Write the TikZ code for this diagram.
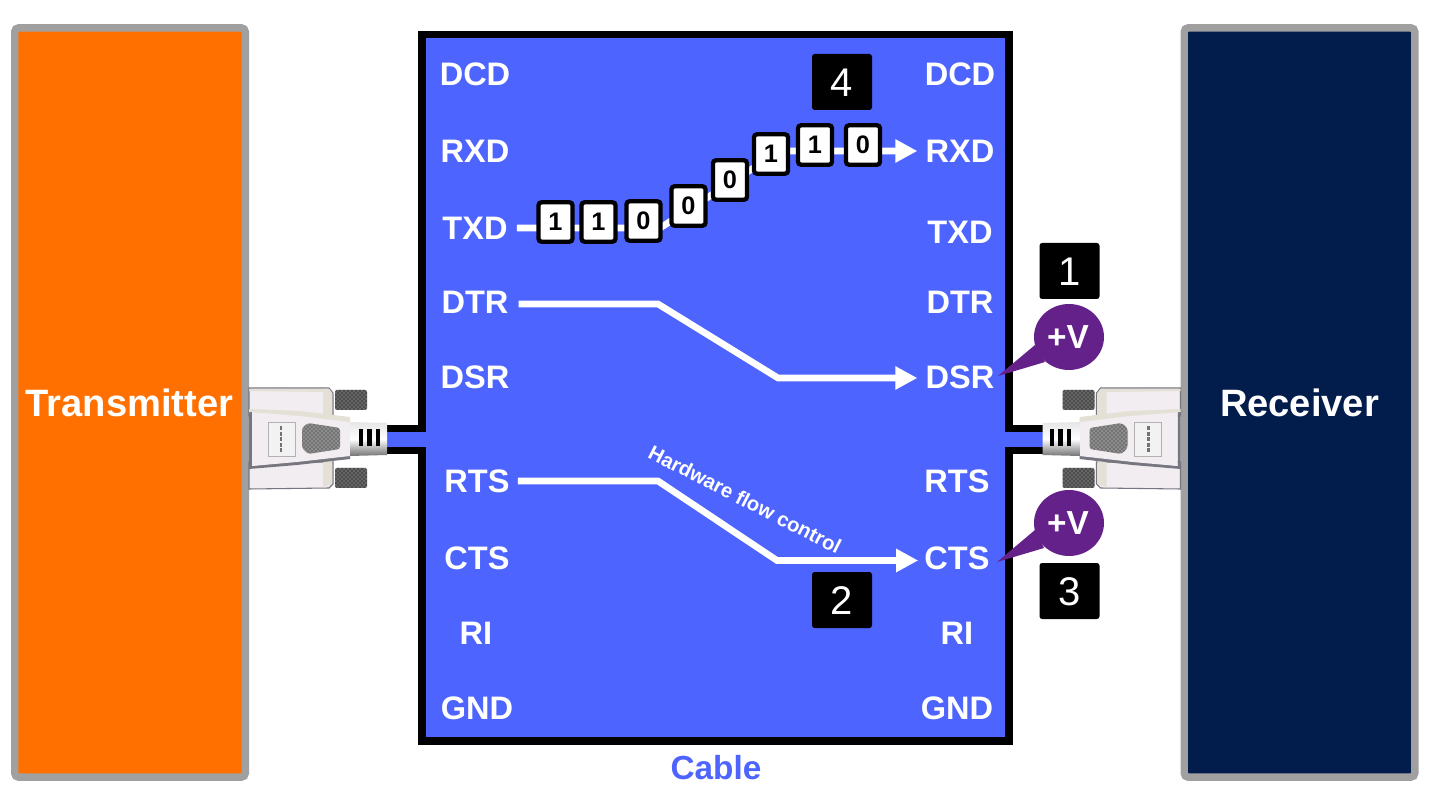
\documentclass[tikz,border=0pt]{standalone}
\usepackage{fontspec}
\setmainfont{Liberation Sans}
\usetikzlibrary{arrows.meta,calc,patterns}
\definecolor{cblue}{HTML}{4D64FF}
\definecolor{corange}{HTML}{FF7000}
\definecolor{cnavy}{HTML}{021C4C}
\definecolor{cpurple}{HTML}{64218A}
\definecolor{cgrey}{HTML}{A0A0A0}
\definecolor{hood}{HTML}{F1EDF1}
\definecolor{hoodedge}{HTML}{E4E0D6}
\definecolor{hoodshade}{HTML}{77757F}
\tikzset{
  sidebox/.style={draw=cgrey,line width=5.6pt,rounded corners=3pt,minimum width=172.9pt,minimum height=562pt,
    text=white,font=\bfseries\fontsize{28.6}{32}\selectfont,inner sep=0pt,text height=20.4pt,text depth=0pt},
  pin/.style={inner sep=0pt,text=white,font=\bfseries\fontsize{24.4}{28}\selectfont,text height=17.4pt,text depth=0pt},
  wire/.style={draw=white,line width=5pt,line join=miter,-{Triangle[length=16.5pt,width=16.5pt]}},
  bitbox/.style={draw=black,fill=white,line width=3.2pt,rounded corners=2.2pt,minimum width=25.5pt,minimum height=29.5pt,inner sep=0pt,
    font=\bfseries\fontsize{19}{22}\selectfont,text height=13.4pt,text depth=0pt},
  badge/.style={fill=black,text=white,rounded corners=2pt,minimum width=45pt,minimum height=42pt,inner sep=0pt,
    font=\fontsize{30}{34}\selectfont,text height=21.5pt,text depth=0pt},
  volt/.style={inner sep=0pt,text=white,font=\bfseries\fontsize{25}{28}\selectfont,text height=17.9pt,text depth=0pt},
  cablestroke/.style={draw=black,line width=5.8pt,line join=miter},
}
\newcommand{\dbconn}{%
  % thumbscrews
  \fill[black!70,rounded corners=1.5pt] (335,390) rectangle (367,410);
  \fill[black!70,rounded corners=1.5pt] (335,468) rectangle (367,488);
  \fill[pattern=crosshatch dots,pattern color=white!75!black] (335,390) rectangle (367,410);
  \fill[pattern=crosshatch dots,pattern color=white!75!black] (335,468) rectangle (367,488);
  % back shell
  \fill[hood,draw=hoodshade,line width=.8pt] (249,388) -- (329,388) -- (333,393) -- (333,416) -- (249,416) -- cycle;
  \fill[hood,draw=hoodshade,line width=.8pt] (249,462) -- (333,462) -- (333,484) -- (329,488) -- (249,489) -- cycle;
  \fill[hoodedge] (323,389) -- (329,389) -- (332,393) -- (332,415) -- (323,415) -- cycle;
  \fill[hoodedge] (323,461) -- (332,461) -- (332,484) -- (323,487) -- cycle;
  \fill[hoodedge] (249,389) -- (329,389) -- (327,392) -- (249,391) -- cycle;
  % hood
  \fill[hoodshade] (249,410) -- (252,410) -- (252,466) -- (297,460) -- (350,453) -- (350,459) -- (297,465) -- (249,469) -- cycle;
  \fill[hood] (252,410) -- (300,414) -- (350,418) -- (350,456) -- (297,462) -- (252,466) -- cycle;
  \fill[hoodedge] (249,409) -- (300,411) -- (350,417) -- (350,422) -- (300,416) -- (249,412) -- cycle;
  % label plate
  \fill[white!95!black,draw=black!30,line width=.5pt] (268,422) rectangle (295,456);
  \draw[black!55,line width=1.6pt,dash pattern=on 3pt off 1.2pt] (281,426) -- (281,452);
  % vent
  \fill[black!55,rounded corners=2pt] (302,428) -- (308,423) -- (340,428) -- (340,449) -- (308,454) -- (302,448) -- cycle;
  \fill[pattern=crosshatch dots,pattern color=white!90!black] (302,428) -- (308,423) -- (340,428) -- (340,449) -- (308,454) -- (302,448) -- cycle;
  % strain relief
  \shade[top color=white!90!black,bottom color=black!55,middle color=white] (350,422) -- (387,423) -- (387,455) -- (350,456) -- cycle;
  \fill[black] (359,429) rectangle (363,446);
  \fill[black] (367,429) rectangle (372,446);
  \fill[black] (376,429) rectangle (380,446);
}
\begin{document}
\begin{tikzpicture}[x=0.75pt,y=-0.75pt]
\useasboundingbox (0,0) rectangle (1432,805);
\fill[white] (0,0) rectangle (1432,805);

% cable body
\fill[cblue] (422,34.5) -- (1009,34.5) -- (1009,428.5) -- (1045,428.5) -- (1045,450.5) -- (1009,450.5) -- (1009,741) -- (422,741)
  -- (422,450.5) -- (385,450.5) -- (385,428.5) -- (422,428.5) -- cycle;
\draw[cablestroke] (385,428.5) -- (422,428.5) -- (422,34.5) -- (1009,34.5) -- (1009,428.5) -- (1045,428.5);
\draw[cablestroke] (385,450.5) -- (422,450.5) -- (422,741) -- (1009,741) -- (1009,450.5) -- (1045,450.5);

% end devices
\node[sidebox,fill=corange] (tx) at (130,402.5) {\hspace{-1pt}Transmitter};
\node[sidebox,fill=cnavy] (rx) at (1299.5,402.5) {Receiver};

% connectors
\dbconn
\begin{scope}[shift={(1429.5,0)},xscale=-1]
\dbconn
\end{scope}

% pin labels
\node[pin] (lDCD) at (475,74) {DCD};
\node[pin] (lRXD) at (475,151) {RXD};
\node[pin] (lTXD) at (475,228) {TXD};
\node[pin] (lDTR) at (475,302) {DTR};
\node[pin] (lDSR) at (475,377) {DSR};
\node[pin] (lRTS) at (477,481) {RTS};
\node[pin] (lCTS) at (477,558) {CTS};
\node[pin] (lRI)  at (476,633) {RI};
\node[pin] (lGND) at (477,708) {GND};
\node[pin] (rDCD) at (960,74) {DCD};
\node[pin] (rRXD) at (960,151) {RXD};
\node[pin] (rTXD) at (960,232) {TXD};
\node[pin] (rDTR) at (960,302) {DTR};
\node[pin] (rDSR) at (960,377) {DSR};
\node[pin] (rRTS) at (957,481) {RTS};
\node[pin] (rCTS) at (957,558) {CTS};
\node[pin] (rRI)  at (957,633) {RI};
\node[pin] (rGND) at (957,708) {GND};

% wires
\draw[wire] ($(lTXD.east)+(9,0)$) -- (660,228) -- (780,151) -- ($(rRXD.west)+(-8,0)$);
\draw[wire] ($(lDTR.east)+(10,2)$) -- (658,304) -- (778,378) -- ($(rDSR.west)+(-8,1)$);
\draw[wire] ($(lRTS.east)+(8,0)$) -- (658,481) -- (777,560.5) -- ($(rCTS.west)+(-6,2.5)$);

% bits
\node[bitbox] (b1) at (555.5,222) {1};
\node[bitbox] (b2) at (598.5,222) {1};
\node[bitbox] (b3) at (643.5,221) {0};
\node[bitbox] (b4) at (688.5,206) {0};
\node[bitbox] (b5) at (730,180) {0};
\node[bitbox] (b6) at (771,154) {1};
\node[bitbox] (b7) at (815,145) {1};
\node[bitbox] (b8) at (863,145) {0};

% flow label
\node[inner sep=0pt,text=white,rotate=-27,font=\bfseries\fontsize{15.2}{18}\selectfont] (hw) at (745,499.5) {Hardware flow control};

% badges
\node[badge] (n4) at (842,82) {4};
\node[badge] (n1) at (1069.5,271) {1};
\node[badge] (n2) at (842,600) {2};
\node[badge] (n3) at (1069.5,591) {3};

% voltage callouts
\fill[cpurple] (1069,337) ellipse [x radius=35,y radius=33];
\fill[cpurple] (998,376) -- (1035,345) -- (1045,362) -- cycle;
\node[volt] (v1) at (1068,337) {+V};
\fill[cpurple] (1069,523) ellipse [x radius=35,y radius=33];
\fill[cpurple] (997,562) -- (1035,530) -- (1044,548) -- cycle;
\node[volt] (v2) at (1068,523) {+V};

% cable caption
\node[inner sep=0pt,text=cblue,font=\bfseries\fontsize{25}{28}\selectfont,text height=18pt,text depth=0pt] (cap) at (716,767.5) {Cable};
\end{tikzpicture}
\end{document}
